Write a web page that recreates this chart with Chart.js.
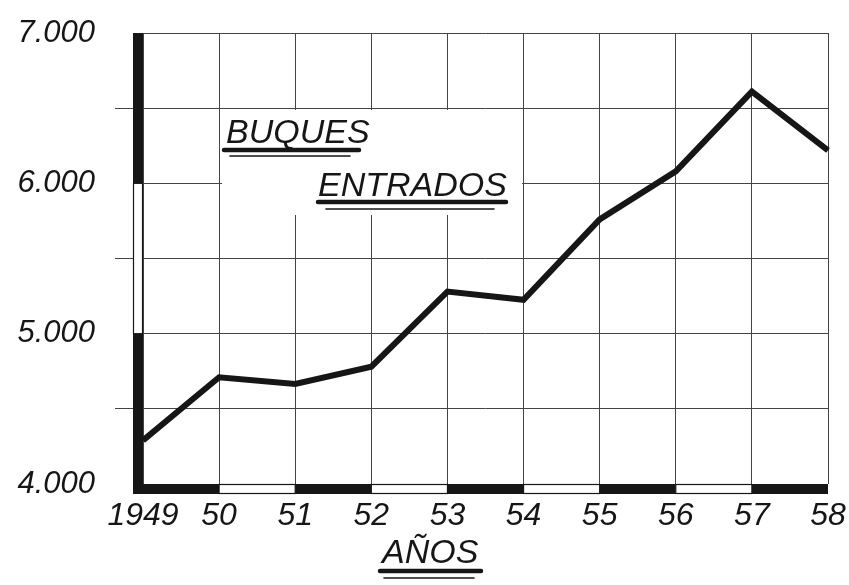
<!DOCTYPE html>
<html>
<head>
<meta charset="utf-8">
<script src="https://cdn.jsdelivr.net/npm/chart.js@4.4.1/dist/chart.umd.min.js"></script>
<style>
  html, body { margin: 0; padding: 0; background: #fff; }
  #wrap { width: 849px; height: 585px; }
</style>
</head>
<body>
<div id="wrap"><canvas id="buquesChart" width="849" height="585"></canvas></div>
<script>
// Buques entrados por año, 1949-58
const years = ["1949", "50", "51", "52", "53", "54", "55", "56", "57", "58"];
const buquesEntrados = [4290, 4710, 4665, 4780, 5280, 5225, 5760, 6080, 6610, 6220];
const yTicks = [4000, 5000, 6000, 7000];

const INK = "#161616";
const CAPTION_FONT = "italic 34px 'Liberation Sans'";

// draws the striped L-shaped axis bars and the hand-lettered captions
const decorPlugin = {
  id: "decor",
  beforeDatasetsDraw(chart) {
    const { ctx } = chart;
    ctx.save();
    // white patch behind the captions (grid hidden there)
    ctx.fillStyle = "#fff";
    ctx.fillRect(222, 110, 300, 105);
    ctx.restore();
  },
  afterDraw(chart) {
    const { ctx, scales: { x, y }, chartArea } = chart;
    const bar = 10;
    ctx.save();
    ctx.lineWidth = 1.2;
    ctx.strokeStyle = INK;

    // left bar: alternate black / white per 1000
    for (let i = 0; i < yTicks.length - 1; i++) {
      const yb = y.getPixelForValue(yTicks[i]);
      const yt = y.getPixelForValue(yTicks[i + 1]);
      const x0 = chartArea.left - bar;
      if (i % 2 === 0) {
        ctx.fillStyle = INK;
        ctx.fillRect(x0, yt, bar, yb - yt);
      } else {
        ctx.fillStyle = "#fff";
        ctx.fillRect(x0, yt, bar, yb - yt);
        ctx.strokeRect(x0 + 0.5, yt, bar - 1, yb - yt);
      }
    }

    // bottom bar: alternate black / white per year
    for (let i = 0; i < years.length - 1; i++) {
      let xl = x.getPixelForValue(i);
      const xr = x.getPixelForValue(i + 1);
      if (i === 0) xl -= bar;
      const y0 = chartArea.bottom;
      if (i % 2 === 0) {
        ctx.fillStyle = INK;
        ctx.fillRect(xl, y0, xr - xl, bar);
      } else {
        ctx.fillStyle = "#fff";
        ctx.fillRect(xl, y0, xr - xl, bar);
        ctx.strokeRect(xl, y0 + 0.5, xr - xl, bar - 1);
      }
    }

    // captions with double underline
    ctx.fillStyle = INK;
    ctx.font = CAPTION_FONT;
    ctx.textBaseline = "alphabetic";
    ctx.textAlign = "left";

    function caption(text, tx, ty, thick, thin) {
      ctx.fillText(text, tx, ty);
      ctx.lineCap = "round";
      ctx.lineWidth = 4.5;
      ctx.beginPath();
      ctx.moveTo(thick[0], thick[2]);
      ctx.lineTo(thick[1], thick[2]);
      ctx.stroke();
      ctx.lineWidth = 1.6;
      ctx.beginPath();
      ctx.moveTo(thin[0], thin[2]);
      ctx.lineTo(thin[1], thin[2]);
      ctx.stroke();
    }

    caption("BUQUES", 226, 143, [224, 359, 150], [230, 350, 156]);
    caption("ENTRADOS", 318, 196, [318, 506, 202], [326, 494, 209]);
    caption("AÑOS", 382, 563, [380, 481, 571], [384, 474, 578]);

    ctx.restore();
  }
};

new Chart(document.getElementById("buquesChart"), {
  type: "line",
  data: {
    labels: years,
    datasets: [{
      data: buquesEntrados,
      borderColor: INK,
      borderWidth: 6,
      pointRadius: 0,
      tension: 0,
      borderJoinStyle: "miter",
      borderCapStyle: "butt",
      fill: false
    }]
  },
  options: {
    responsive: false,
    animation: false,
    layout: {
      padding: { top: 33, right: 21, left: 0, bottom: 0 }
    },
    scales: {
      x: {
        offset: false,
        grid: {
          color: "#444",
          lineWidth: 1,
          drawTicks: false
        },
        border: { display: false },
        ticks: {
          color: INK,
          font: { family: "'Liberation Sans'", size: 32, style: "italic" },
          padding: 13,
          maxRotation: 0,
          autoSkip: false
        },
        afterFit(scale) {
          scale.height = 101;
          scale.paddingLeft = 0;
          scale.paddingRight = 0;
        }
      },
      y: {
        min: 4000,
        max: 7000,
        grid: {
          color: "#444",
          lineWidth: 1,
          tickLength: 28,
          tickColor: ctx => (ctx.tick && ctx.tick.value % 1000 !== 0) ? "#444" : "rgba(0,0,0,0)"
        },
        border: { display: false },
        ticks: {
          stepSize: 500,
          color: INK,
          font: { family: "'Liberation Sans'", size: 31, style: "italic" },
          padding: 20,
          callback: v => yTicks.includes(v) ? (v / 1000) + ".000" : ""
        },
        afterFit(scale) {
          scale.width = 143;
          scale.paddingTop = 0;
          scale.paddingBottom = 0;
        }
      }
    },
    plugins: {
      legend: { display: false },
      tooltip: { enabled: false },
      title: { display: false }
    }
  },
  plugins: [decorPlugin]
});
</script>
</body>
</html>
